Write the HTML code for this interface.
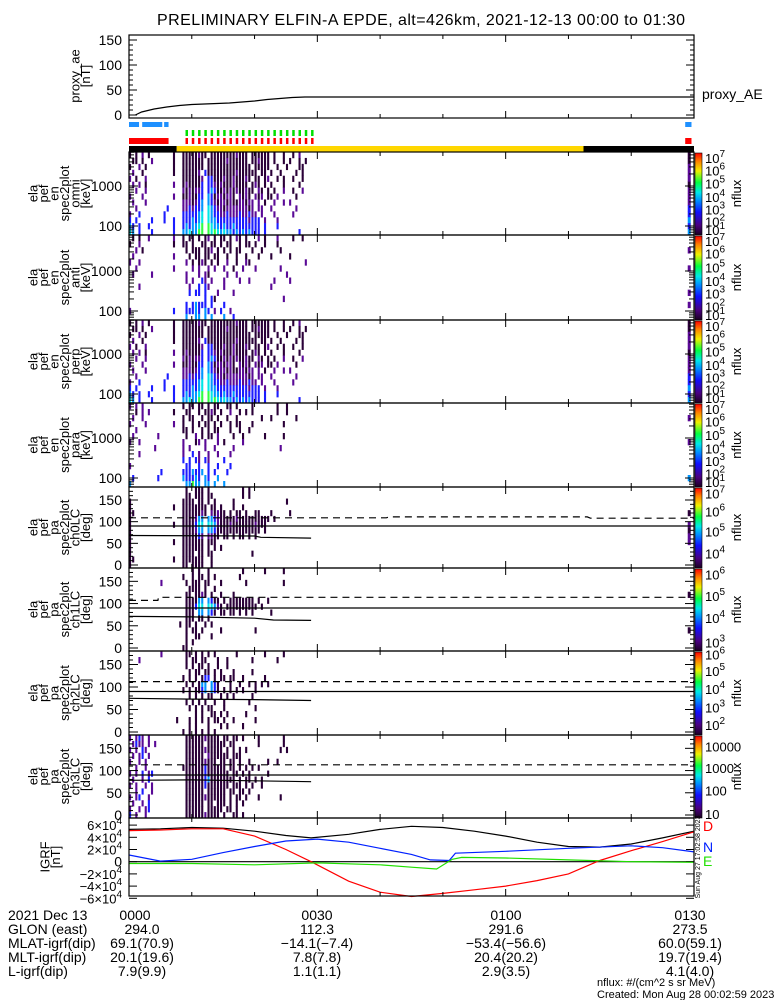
<!DOCTYPE html>
<html><head><meta charset="utf-8"><title>ELFIN-A EPDE</title>
<style>
html,body{margin:0;padding:0;background:#fff;width:775px;height:1000px;overflow:hidden}
svg{display:block;font-family:"Liberation Sans",sans-serif}
</style></head>
<body>
<svg id="chart" width="775" height="1000" viewBox="0 0 775 1000" xmlns="http://www.w3.org/2000/svg">
<defs>
<linearGradient id="cbar" x1="0" y1="1" x2="0" y2="0">
<stop offset="0" stop-color="#1a0020"/><stop offset="0.12" stop-color="#4a0080"/>
<stop offset="0.28" stop-color="#1010ff"/><stop offset="0.42" stop-color="#0090ff"/>
<stop offset="0.52" stop-color="#00e8e8"/><stop offset="0.64" stop-color="#00ff40"/>
<stop offset="0.78" stop-color="#f0f000"/><stop offset="0.9" stop-color="#ff8000"/>
<stop offset="1" stop-color="#ff0000"/></linearGradient>
</defs>
<text x="421" y="25" font-size="16" text-anchor="middle" textLength="528">PRELIMINARY ELFIN-A EPDE, alt=426km, 2021-12-13 00:00 to 01:30</text>
</svg>
<script>
// ---------- data ----------
const timeTicksMin = [0, 30, 60, 90];
const timeTickLabels = ["0000", "0030", "0100", "0130"];
const aeTimes = [1,2,4,6,8,10,12,14,16,18,20,22,24,26,28,90];
const aeValues = [0,6,12,16,19,21,22,23,24,26,28,31,33,35,36,36];
const igrfTimes = [0,5,10,15,20,25,29,35,40,45,50,55,60,65,70,75,80,85,90];
const igrfTotal = [5.3,5.4,5.6,5.5,5.0,4.3,3.9,4.5,5.3,5.8,5.6,5.0,4.2,3.2,2.5,2.4,2.9,3.9,5.0];
const igrfD = [5.1,5.2,5.4,5.4,4.2,2.0,0,-3.2,-5.0,-5.7,-5.2,-4.6,-4.0,-3.1,-2.0,0.2,1.8,3.3,4.9];
const igrfNTimes = [0,5,10,15,20,25,30,35,40,45,48,51,52,60,70,80,85,90];
const igrfN = [1.1,0.1,0.4,1.5,2.5,3.4,3.7,3.2,2.2,1.2,0.3,0.2,1.4,1.7,2.2,2.6,2.3,1.6];
const igrfETimes = [0,10,20,30,40,45,49,51.5,53,60,70,80,90];
const igrfE = [-0.3,-0.3,-0.5,-0.2,-0.5,-0.9,-1.2,0.4,0.7,0.6,0.3,0.0,-0.1];
const blueBars = [[0,1.6],[2.1,5.3],[5.6,6.3],[88.6,89.6]];
const redBars = [[0,6.3],[88.6,89.6]];
const dashTimes = [9,29];
const dayNight = [[0,7.6,"#000"],[7.6,72.4,"#ffd700"],[72.4,90,"#000"]];
// grids: row 0 = top; each char = 0.5 min column
const omniGrid = [
"d.d.p.d.......d..dddddpdd.ddddddddpddd.dddddd.d..d..d.p.....",
".dd.d..p......d..ddddddd.ddddddpdddddd.ddpddd.d..d.d..d.d...",
"d..p.d........d..ddddddd.dddddddddddddd.ddddd..d..d...dd....",
".p..d.........d..dddddp.bdddddddddpdddddd.dd.d..d....d.d....",
"p.d..p...........ddddddp.bbdddpddpdddpd.dd.dp..d.d..d..d....",
".p.p.d........p..dpddddb.bbpdpdddpdddd.dpd.d.d...d....d.....",
"..p..p...........pdpdppb.bcbddpdpdpddpdd.pd.d.d..p..d..p....",
"p...p.........p..ddpddbb.cbdppdppd.pdpd.pdp.dd.p.....d......",
".p...p...........pppdpbc.cbpdppdpddppdpp.p.d..p..p.p........",
"..p.........b....ppbpbbc.tcbppdpppppppdp.pp..p.......p......",
"p..b.......b.....bbbbbct.tcbbppbpppbppbpp.p...p.....p.......",
"b.b....b...b..b..bbbcbct.tccbbbbbbbbbbpbbb.p...p............",
"cb.b..b.......b..bcbcctg.gtccbcbbcbbbbbbbb.b...b............",
"tc.b...b......b..cctccgg.gtgtctccbcbcbcbbb.b..........b.....",
];
const antiGrid = [
".d.d..p.......p..d.dd.d.dp.d.dd.d.pd.d...p.d...p....d..d....",
"d..p..........d..dd.d..dd.dd.d.dd..d.dd.d..d...d............",
"..p.d.............d.ddd.ddp.d.d.d.dd...d..d.....d...........",
".p............p....d.dd.dd.dd..d..d..d...d...d.....d........",
"p..p..............p.d.dpd.d.d..p..d..pd.................p...",
"..p...........p.....p.p..p.p..p..d..p...p.......p...........",
".p.....p..........p...p.pd.....p..p...............p.........",
"..................p.p..bp.p...p....p..p.......p....p........",
"...p...............p..b.bp....p..............p..............",
"...................b.bb.b...p....p..........................",
"........................b.bd.....................p..........",
"..................b.bcbbb.b...b.............................",
"p.............b...bbbcb.cb.p.b..p...........................",
"..................c..cc.c.c...c..b..........................",
];
const paraGrid = [
"p.p.p............d.dd.dd.d.dd..dd.d....d.......d..d.........",
"..d.p.p.......d...dd..d.ddpd.d..p..d.d.d.......d..d.........",
".p..p............d.dd..d.dd.d..d..d.......d..d.......d......",
"p....p........p..d..d.d.dd.d.d..d.dd...d.........d..........",
"..p..............dd.d..d.d.dd...d..d..d.....................",
".p.......p........d..p.d.dd.p....d..d......d.....d..........",
"p..p.............p...dp.p...p.d.....p.......................",
"........p........p.p....p..p.....p..............p...........",
"...p.............p..b.p..p..p...p...........................",
".................b.b.bp.bp....b.............................",
"p.................bb..b..b..b...b...........................",
"..........b......bbbcbbc.b.b...b............................",
".b.......b.......cbbbcb.cb..c...............................",
"c.................ccgcc.cc.c..c.............................",
];
const ch0Grid = [
"..................d..ddd.d..........d.d.....................",
"..................dd.ddd.dd.........d.d.....................",
"d................dddd.dd.d.d.....d................d.........",
"d.............d..dddddddd.dd.d...d..d.......................",
"dd...............ddddddpd.pdpdd.d.dd.d..dd...d.....d........",
"d................ddddpcc.ccbpdddddpdddddddddd.d.............",
"d.............d..ddddbtt.ttcpdddpdddddddpddd................",
"d................ddddpcc.ccbdddddddddddddd.d................",
"d................dddddbp.ppdd.dd.d.dd.d.d...................",
"d.............d..ddddddd.ddd................................",
"d................ddddddd.d.d.d..............................",
"d................dddd.dd.dd............d....................",
"dd............d..ddddddd..d.................................",
"d................dd.dddd..d.................................",
];
const ch1Grid = [
"....................d.d..d..........d......d.....d..........",
".................d..d.dd.d.d.......d........................",
"..........p.......d.ddd.dd...d.......d...........d..........",
"...................dddd.d..d................................",
"..................dd.ddpd.d..d...d..........................",
"..................ddddcc.cbdd.d.dddddddd.d..d...............",
"..................dddbtt.ttcpd.dddddddddd.d.................",
"..................ddd.cc.cbd.dd.dd.d.d.d.....d..............",
"..................ddd.dd.d..................................",
"................d.dd.d..d.d.................................",
"..................d.dd.d.....d..........d...................",
"..................d..dd...d.................................",
"..................d.d.......................................",
".................dd.........................................",
];
const ch2Grid = [
"..........p.......dd.d.d.d.d......d........d.....d..........",
"...p..............d.dd.dd...d..d.......d.......d............",
"..................d.d.dd.d..d..d............................",
"...................d.dd.dd.d.d...d.....d....................",
".................d.d.d.dbb.d.dd.dd..d......d................",
"..................d.d.dcc.cbd...d..d..d.d.d.d...............",
".................d.d.ddbc.cbd.d.d.d.d...d...................",
"...................d.d.d.dd..d.d.d.....d....................",
"..................d.d.d.d..d..d.......d.....................",
"...................d.d.d.dd...d.........d...................",
".....................d.d..dd.d.d.....d......................",
"...............d...d.d.d.d.dd.d..d......d...................",
"...................d.d...d...d.d....d.......................",
".................d.d.d.d.d.d................................",
];
const ch3Grid = [
"p.pbp.p...........ddddddpdddd.dd.dd.d....d.......d..........",
".pbpp.p.p.........dddddd.dddddd.dd.......d.......d..........",
"p.p.bp............ddddddpddddd.d.d.d.d..........d.d.........",
".p.pb.p...........dddddd.pdddddd.ddd........................",
"p..p.p............ddddddpddd.dd.dd.d..d.....d..d............",
"..p..p...........dddddddbdddddd.dd.d.d.d.d..................",
"p.p.b.pb..........ddddddbddddddd.dd.d.d.....d...............",
".p..p.b...........ddddddbcdddddddd.d.dd.d.d.................",
"p.p..p.p..........ddddddbddddddd.ddd.d.d..d.................",
"..p.b..p..........dddddd.dddddd.dd.dd.d.....................",
"p.pb..p...........ddddddpdddddd.d.dd.d...d......d...........",
".p..p.b...........dddddd.dd.ddd.d.d.d.......................",
"p..p.pb...........dddddd.ddddd.dd.d.........................",
"b.p..p............ddddddpdddd.d..dd.d.......................",
];
const tailEnergy = ["ddpppdpppbbcbc", "..p..p...p.p..", "ddpppdpppbbcbc", "..p...p.....c."];
const tailPA = ["....d.pdpp....", "....d.....d...", "..............", ".............."];
const ch0Dash = [[0,109],[41,109],[41.5,111],[73,111],[73.5,108],[90,108]];
const ch1Dash = [[0,107],[4.6,107],[4.7,114],[90,114]];
const ch2Dash = [[0,112],[90,112]];
const ch3Dash = [[0,113],[90,113]];
const ch0Loss = [[0,68],[20,67],[21,64],[29,62]];
const ch1Loss = [[0,71],[10,70],[20,67],[23,63],[29,62]];
const ch2Loss = [[0,75],[10,73],[20,72],[29,70]];
const ch3Loss = [[0,78],[10,79],[20,77],[29,75]];

// ---------- helpers ----------
const NS = "http://www.w3.org/2000/svg";
const svg = document.getElementById("chart");
const X0 = 129, X1 = 694;
const X = t => X0 + t * (X1 - X0) / 90;
const COL = {d:"#2a0038", p:"#5a0a96", b:"#1c1cff", c:"#0096ff", t:"#00e6e6", g:"#30ff40"};
function mk(tag, attrs, parent) {
  const el = document.createElementNS(NS, tag);
  for (const k in attrs) el.setAttribute(k, attrs[k]);
  (parent || svg).appendChild(el);
  return el;
}
function txt(x, y, s, size, anchor, parent) {
  const el = mk("text", {x: x, y: y, "font-size": size, "text-anchor": anchor || "start"}, parent);
  el.textContent = s;
  return el;
}
function sci(x, y, mant, exp, size, parent) {
  const el = mk("text", {x: x, y: y, "font-size": size, "text-anchor": "end"}, parent);
  el.textContent = mant;
  const sp = mk("tspan", {dy: -6, "font-size": size - 3}, el);
  sp.textContent = exp;
  return el;
}
function timeTicks(top, bot, g) {
  for (let t = 0; t <= 90; t += 10) {
    const len = (t % 30 === 0) ? 7 : 4;
    mk("line", {x1: X(t), x2: X(t), y1: bot, y2: bot - len, stroke: "#000"}, g);
    mk("line", {x1: X(t), x2: X(t), y1: top, y2: top + len, stroke: "#000"}, g);
  }
}
function box(top, bot, g) {
  mk("rect", {x: X0, y: top, width: X1 - X0, height: bot - top, fill: "none", stroke: "#000", "stroke-width": 1.2}, g);
}
function yLabel(lines, cy, g, lastX) {
  const n = lines.length;
  const lx = lastX || 86;
  lines.forEach((s, i) => {
    const xx = lx - (n - 1 - i) * 10.5;
    const el = mk("text", {x: 0, y: 0, "font-size": 13, "text-anchor": "middle", transform: "translate(" + (xx + 4) + "," + cy + ") rotate(-90)"}, g);
    el.textContent = s;
  });
}
function drawGrid(grid, tail, top, bot, g) {
  const rh = (bot - top) / grid.length;
  grid.forEach((row, r) => {
    for (let c = 0; c < row.length; c++) {
      const ch = row[c];
      if (ch === ".") continue;
      const cell = mk("rect", {x: X(c * 0.5), y: top + r * rh, width: 2.1, height: rh + 0.3, fill: COL[ch]}, g);
      
      
    }
  });
  for (let r = 0; r < tail.length; r++) {
    const ch = tail[r];
    if (ch === ".") continue;
    const cell = mk("rect", {x: X(89.0), y: top + r * rh, width: 3, height: rh + 0.3, fill: COL[ch]}, g);
    
    
  }
}
function colorbar(top, bot, labels, g) {
  const cb = mk("rect", {x: 695, y: top + 1, width: 7, height: bot - top - 1, fill: "url(#cbar)", stroke: "#000", "stroke-width": 0.6}, g);
  
  
  labels.forEach(([frac, m, e]) => {
    const y = bot - frac * (bot - top) + 5;
    const el = mk("text", {x: 705, y: y, "font-size": 13}, g);
    el.textContent = m;
    if (e) { const sp = mk("tspan", {dy: -6, "font-size": 10}, el); sp.textContent = e; }
  });
  const nf = mk("text", {x: 0, y: 0, "font-size": 13, "text-anchor": "middle", transform: "translate(741," + ((top + bot) / 2) + ") rotate(-90)"}, g);
  nf.textContent = "nflux";
  
  
}
function polyline(pts, xf, yf, color, g, dash, width) {
  const d = pts.map((p, i) => (i ? "L" : "M") + xf(p[0]).toFixed(1) + "," + yf(p[1]).toFixed(1)).join("");
  const a = {d: d, fill: "none", stroke: color, "stroke-width": width || 1.2};
  if (dash) a["stroke-dasharray"] = dash;
  return mk("path", a, g);
}
const zip = (a, b) => a.map((v, i) => [v, b[i]]);

// ---------- proxy AE panel ----------
{
  const g = mk("g", {});
  
  
  const top = 35, bot = 118;
  const yA = v => 115 - v * 0.5;
  [0, 50, 100, 150].forEach(v => {
    txt(122, yA(v) + 5, String(v), 14, "end", g);
    mk("line", {x1: X0, x2: X0 + 8, y1: yA(v), y2: yA(v), stroke: "#000"}, g);
    mk("line", {x1: X1, x2: X1 - 8, y1: yA(v), y2: yA(v), stroke: "#000"}, g);
  });
  for (let v = 10; v < 160; v += 10) if (v % 50) {
    mk("line", {x1: X0, x2: X0 + 4, y1: yA(v), y2: yA(v), stroke: "#000"}, g);
    mk("line", {x1: X1, x2: X1 - 4, y1: yA(v), y2: yA(v), stroke: "#000"}, g);
  }
  timeTicks(top, bot, g);
  const ln = polyline(zip(aeTimes, aeValues), X, yA, "#000", g);
  
  
  box(top, bot, g);
  yLabel(["proxy_ae", "[nT]"], 76, g);
  const lg = txt(702, 99, "proxy_AE", 14, "start", g);
  
  
}

// ---------- status bars ----------
{
  const g = mk("g", {});
  
  
  blueBars.forEach(([a, b]) => {
    const r = mk("rect", {x: X(a), y: 122, width: X(b) - X(a), height: 5, fill: "#1e90ff"}, g);
    
    
  });
  redBars.forEach(([a, b]) => {
    const r = mk("rect", {x: X(a), y: 138, width: X(b) - X(a), height: 6, fill: "#ff0000"}, g);
    
    
  });
  for (let t = dashTimes[0]; t <= dashTimes[1]; t += 1) {
    const gr = mk("rect", {x: X(t), y: 130, width: 2.5, height: 6, fill: "#00e000"}, g);
    
    
    const rd = mk("rect", {x: X(t), y: 138, width: 2.5, height: 6, fill: "#ff0000"}, g);
    
    
  }
  dayNight.forEach(([a, b, c]) => {
    const r = mk("rect", {x: X(a), y: 146, width: X(b) - X(a), height: 6, fill: c}, g);
    
    
  });
}

// ---------- energy spectrogram panels ----------
const ePanels = [
  [152, 235, omniGrid, tailEnergy[0], "omni"],
  [235, 320, antiGrid, tailEnergy[1], "anti"],
  [320, 403, omniGrid, tailEnergy[2], "perp"],
  [403, 487, paraGrid, tailEnergy[3], "para"],
];
const eCbLabels = [[0.93,"10","7"],[0.78,"10","6"],[0.62,"10","5"],[0.46,"10","4"],[0.31,"10","3"],[0.16,"10","2"],[0.06,"10","1"]];
ePanels.forEach(([top, bot, grid, tail, nm]) => {
  const g = mk("g", {});
  
  
  drawGrid(grid, tail, top, bot, g);
  const yE = e => (bot - 9) - (Math.log10(e) - 2) * 40;
  for (let dec = 10; dec <= 1000; dec *= 10) {
    for (let k = 1; k < 10; k++) {
      const y = yE(dec * k);
      if (y < top || y > bot) continue;
      const len = k === 1 ? 9 : 5;
      mk("line", {x1: X0, x2: X0 + len, y1: y, y2: y, stroke: "#000"}, g);
      mk("line", {x1: X1, x2: X1 - len, y1: y, y2: y, stroke: "#000"}, g);
    }
  }
  txt(122, yE(1000) + 5, "1000", 14, "end", g);
  txt(122, yE(100) + 5, "100", 14, "end", g);
  timeTicks(top, bot, g);
  box(top, bot, g);
  yLabel(["ela", "pef", "en", "spec2plot", nm, "[keV]"], (top + bot) / 2, g);
  colorbar(top, bot, eCbLabels, g);
});

// ---------- pitch angle panels ----------
const paPanels = [
  [487, 568, ch0Grid, tailPA[0], "ch0LC", ch0Dash, ch0Loss, [[0.92,"10","7"],[0.7,"10","6"],[0.45,"10","5"],[0.18,"10","4"]]],
  [568, 651, ch1Grid, tailPA[1], "ch1LC", ch1Dash, ch1Loss, [[0.92,"10","6"],[0.66,"10","5"],[0.4,"10","4"],[0.1,"10","3"]]],
  [651, 735, ch2Grid, tailPA[2], "ch2LC", ch2Dash, ch2Loss, [[0.96,"10","6"],[0.76,"10","5"],[0.55,"10","4"],[0.33,"10","3"],[0.12,"10","2"]]],
  [735, 818, ch3Grid, tailPA[3], "ch3LC", ch3Dash, ch3Loss, [[0.86,"10000",""],[0.6,"1000",""],[0.33,"100",""],[0.05,"10",""]]],
];
paPanels.forEach(([top, bot, grid, tail, nm, dash, loss, cbl]) => {
  const g = mk("g", {});
  
  
  drawGrid(grid, tail, top, bot, g);
  const yP = a => (bot - 3) - a * (bot - 3 - top) / 180;
  for (let a = 0; a <= 180; a += 10) {
    const len = a % 50 === 0 ? 9 : 4;
    mk("line", {x1: X0, x2: X0 + len, y1: yP(a), y2: yP(a), stroke: "#000"}, g);
    mk("line", {x1: X1, x2: X1 - len, y1: yP(a), y2: yP(a), stroke: "#000"}, g);
  }
  [0, 50, 100, 150].forEach(a => txt(122, yP(a) + 5, String(a), 14, "end", g));
  const l90 = mk("line", {x1: X0, x2: X1, y1: yP(90), y2: yP(90), stroke: "#000", "stroke-width": 1.2}, g);
  
  
  const dl = polyline(dash, X, yP, "#000", g, "7,5");
  
  
  const ll = polyline(loss, X, yP, "#000", g);
  
  
  timeTicks(top, bot, g);
  box(top, bot, g);
  yLabel(["ela", "pef", "pa", "spec2plot", nm, "[deg]"], (top + bot) / 2, g);
  colorbar(top, bot, cbl, g);
});

// ---------- IGRF panel ----------
{
  const g = mk("g", {});
  
  
  const top = 818, bot = 896;
  const yB = v => 861.7 - v * 6.1;
  [-6, -4, -2, 0, 2, 4, 6].forEach(v => {
    if (v === 0) txt(122, yB(v) + 5, "0", 14, "end", g);
    else sci(122, yB(v) + 5, (v < 0 ? "\u2212" : "") + Math.abs(v) + "\u00d710", "4", 13, g);
    mk("line", {x1: X0, x2: X0 + 8, y1: yB(v), y2: yB(v), stroke: "#000"}, g);
    mk("line", {x1: X1, x2: X1 - 8, y1: yB(v), y2: yB(v), stroke: "#000"}, g);
  });
  const z = mk("line", {x1: X0, x2: X1, y1: yB(0), y2: yB(0), stroke: "#000", "stroke-width": 1.2}, g);
  
  
  const lt = polyline(zip(igrfTimes, igrfTotal), X, yB, "#000", g);
  
  
  const ld = polyline(zip(igrfTimes, igrfD), X, yB, "#ff0000", g);
  
  
  const lnn = polyline(zip(igrfNTimes, igrfN), X, yB, "#0020ff", g);
  
  
  const le = polyline(zip(igrfETimes, igrfE), X, yB, "#20e000", g);
  
  
  timeTicks(top, bot, g);
  box(top, bot, g);
  yLabel(["IGRF", "[nT]"], 857, g, 56);
  [["D", 831, "#ff0000"], ["N", 852, "#0020ff"], ["E", 866, "#20e000"]].forEach(([s, y, c]) => {
    const el = txt(703, y, s, 14, "start", g);
    el.setAttribute("fill", c);
    
    
  });
  const st = mk("text", {x: 0, y: 0, "font-size": 7, "text-anchor": "middle", transform: "translate(700,857) rotate(-90)"}, g);
  st.textContent = "Sun Aug 27 17:02:58 2023";
  
  
}

// ---------- bottom annotation table ----------
{
  const g = mk("g", {});
  
  
  const rowLabels = ["2021 Dec 13", "GLON (east)", "MLAT-igrf(dip)", "MLT-igrf(dip)", "L-igrf(dip)"];
  const colX = [142, 317, 506, 690];
  const vals = [
    timeTickLabels,
    ["294.0", "112.3", "291.6", "273.5"],
    ["69.1(70.9)", "\u221214.1(\u22127.4)", "\u221253.4(\u221256.6)", "60.0(59.1)"],
    ["20.1(19.6)", "7.8(7.8)", "20.4(20.2)", "19.7(19.4)"],
    ["7.9(9.9)", "1.1(1.1)", "2.9(3.5)", "4.1(4.0)"],
  ];
  rowLabels.forEach((s, i) => {
    const y = 920 + i * 14;
    txt(8, y, s, 14, "start", g);
    vals[i].forEach((v, j) => {
      const cx = (i === 0 && j === 0) ? 135 : colX[j];
      txt(cx, y, v, 14, "middle", g);
    });
  });
  const f1 = txt(597, 986, "nflux: #/(cm^2 s sr MeV)", 11, "start", g);
  
  
  const f2 = txt(597, 998, "Created: Mon Aug 28 00:02:59 2023", 11, "start", g);
  
  
}
</script>
</body></html>
